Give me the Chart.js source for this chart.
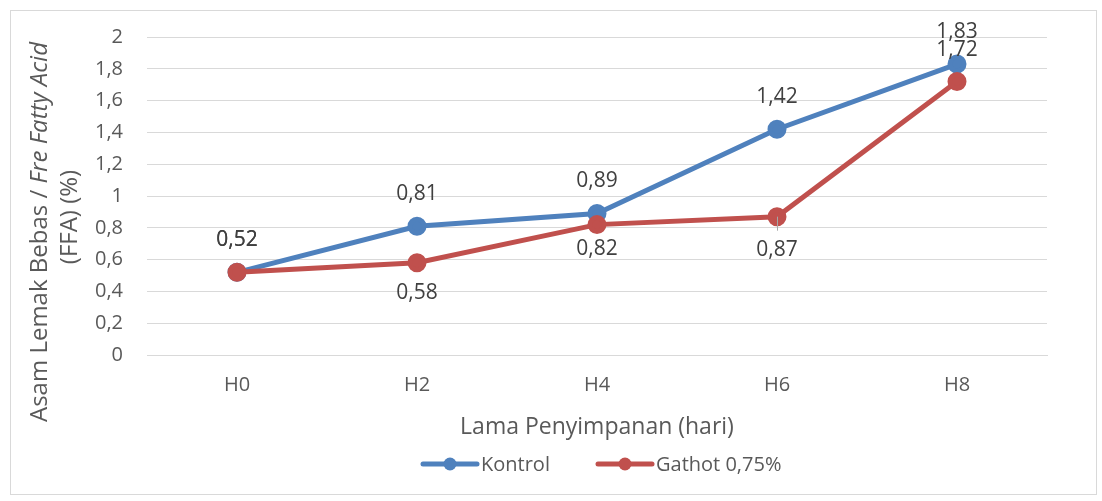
<!DOCTYPE html>
<html lang="id">
<head>
  <meta charset="UTF-8">
  <title>Asam Lemak Bebas</title>
  <script src="https://cdn.jsdelivr.net/npm/chart.js"></script>
  <style>
    body { margin: 0; background: #fff; }
    #wrap {
      position: absolute; left: 10px; top: 10px;
      width: 1085px; height: 483px;
      border: 1px solid #d9d9d9;
    }
  </style>
</head>
<body>
  <div id="wrap"><canvas id="ffaChart" width="1085" height="483"></canvas></div>

  <script>
    const days = ['H0', 'H2', 'H4', 'H6', 'H8'];
    const kontrol = [0.52, 0.81, 0.89, 1.42, 1.83];
    const gathot = [0.52, 0.58, 0.82, 0.87, 1.72];
    const seriesNames = ['Kontrol', 'Gathot 0,75%'];
    const seriesColors = ['#4F81BD', '#C0504D'];

    const FONT = '"Open Sans", sans-serif';
    const TEXT = '#595959';

    const fmt = v => String(v).replace('.', ',');

    // labels: Kontrol above the point, Gathot below (except first and last)
    const labelPlugin = {
      id: 'pointLabels',
      afterDatasetsDraw(chart) {
        const ctx = chart.ctx;
        ctx.save();
        ctx.font = '21px ' + FONT;
        ctx.fillStyle = '#404040';
        ctx.textAlign = 'center';
        ctx.textBaseline = 'middle';
        chart.data.datasets.forEach((ds, di) => {
          const meta = chart.getDatasetMeta(di);
          meta.data.forEach((pt, i) => {
            let dy = -32;
            if (di === 1 && i > 0 && i < ds.data.length - 1) dy = 30;
            if (di === 1 && i === 2) dy = 24;
            if (di === 1 && i === 3) {
              dy = 33;
              // little leader line, the label was dragged down a bit
              ctx.strokeStyle = '#a6a6a6';
              ctx.lineWidth = 1;
              ctx.beginPath();
              ctx.moveTo(pt.x + 0.5, pt.y);
              ctx.lineTo(pt.x + 0.5, pt.y + 14);
              ctx.stroke();
            }
            ctx.fillText(fmt(ds.data[i]), pt.x, pt.y + dy);
          });
        });
        ctx.restore();
      }
    };

    // axis titles + legend drawn by hand (mixed italic title, Excel-style legend)
    const decorPlugin = {
      id: 'decor',
      afterDraw(chart) {
        const ctx = chart.ctx;
        const area = chart.chartArea;
        ctx.save();
        ctx.fillStyle = TEXT;

        // y title, two lines
        ctx.save();
        ctx.rotate(-Math.PI / 2);
        ctx.textBaseline = 'alphabetic';
        const part1 = 'Asam Lemak Bebas / ';
        const part2 = 'Fre Fatty Acid';
        ctx.font = '24px ' + FONT;
        const w1 = ctx.measureText(part1).width;
        ctx.font = 'italic 24px ' + FONT;
        const w2 = ctx.measureText(part2).width;
        const c1 = -221;   // rotated coords: x = -(canvas y)
        const x0 = c1 - (w1 + w2) / 2;
        ctx.textAlign = 'left';
        ctx.font = '24px ' + FONT;
        ctx.fillText(part1, x0, 36);
        ctx.font = 'italic 24px ' + FONT;
        ctx.fillText(part2, x0 + w1, 36);
        ctx.font = '24px ' + FONT;
        ctx.textAlign = 'center';
        ctx.fillText('(FFA) (%)', -206, 66);
        ctx.restore();

        // x title
        ctx.font = '23px ' + FONT;
        ctx.textAlign = 'center';
        ctx.textBaseline = 'middle';
        ctx.fillText('Lama Penyimpanan (hari)', (area.left + area.right) / 2, 416);

        // legend
        ctx.font = '20px ' + FONT;
        ctx.textAlign = 'left';
        const items = [{ x: 412 }, { x: 587 }];
        items.forEach((it, i) => {
          const y = 453;
          ctx.strokeStyle = seriesColors[i];
          ctx.lineWidth = 5;
          ctx.lineCap = 'round';
          ctx.beginPath();
          ctx.moveTo(it.x, y);
          ctx.lineTo(it.x + 54, y);
          ctx.stroke();
          ctx.fillStyle = seriesColors[i];
          ctx.beginPath();
          ctx.arc(it.x + 27, y, 6.5, 0, Math.PI * 2);
          ctx.fill();
          ctx.fillStyle = TEXT;
          ctx.fillText(seriesNames[i], it.x + 58, y + 1);
        });
        ctx.restore();
      }
    };

    new Chart(document.getElementById('ffaChart'), {
      type: 'line',
      data: {
        labels: days,
        datasets: [
          {
            label: seriesNames[0],
            data: kontrol,
            borderColor: seriesColors[0],
            backgroundColor: seriesColors[0],
            borderWidth: 5,
            pointRadius: 7,
            pointHoverRadius: 7,
            tension: 0,
            order: 2
          },
          {
            label: seriesNames[1],
            data: gathot,
            borderColor: seriesColors[1],
            backgroundColor: seriesColors[1],
            borderWidth: 5,
            pointRadius: 7,
            pointHoverRadius: 7,
            tension: 0,
            order: 1
          }
        ]
      },
      options: {
        responsive: false,
        animation: false,
        events: [],
        layout: { padding: { left: 0, right: 49, top: 26, bottom: 0 } },
        plugins: {
          legend: { display: false },
          tooltip: { enabled: false }
        },
        scales: {
          x: {
            offset: true,
            grid: { display: false, drawTicks: false },
            border: { color: '#d9d9d9', width: 1 },
            ticks: {
              color: TEXT,
              font: { family: FONT, size: 20 },
              padding: 18
            },
            afterFit(scale) {
              scale.height = 139;
              scale.paddingLeft = 0;
              scale.paddingRight = 0;
            }
          },
          y: {
            min: 0,
            max: 2,
            grid: { color: '#d9d9d9', lineWidth: 1, drawTicks: false },
            border: { display: false },
            ticks: {
              stepSize: 0.2,
              color: TEXT,
              font: { family: FONT, size: 20 },
              padding: 24,
              callback: v => fmt(Math.round(v * 10) / 10)
            },
            afterFit(scale) {
              scale.width = 136;
              scale.paddingTop = 0;
              scale.paddingBottom = 0;
            }
          }
        }
      },
      plugins: [labelPlugin, decorPlugin]
    });
  </script>
</body>
</html>
